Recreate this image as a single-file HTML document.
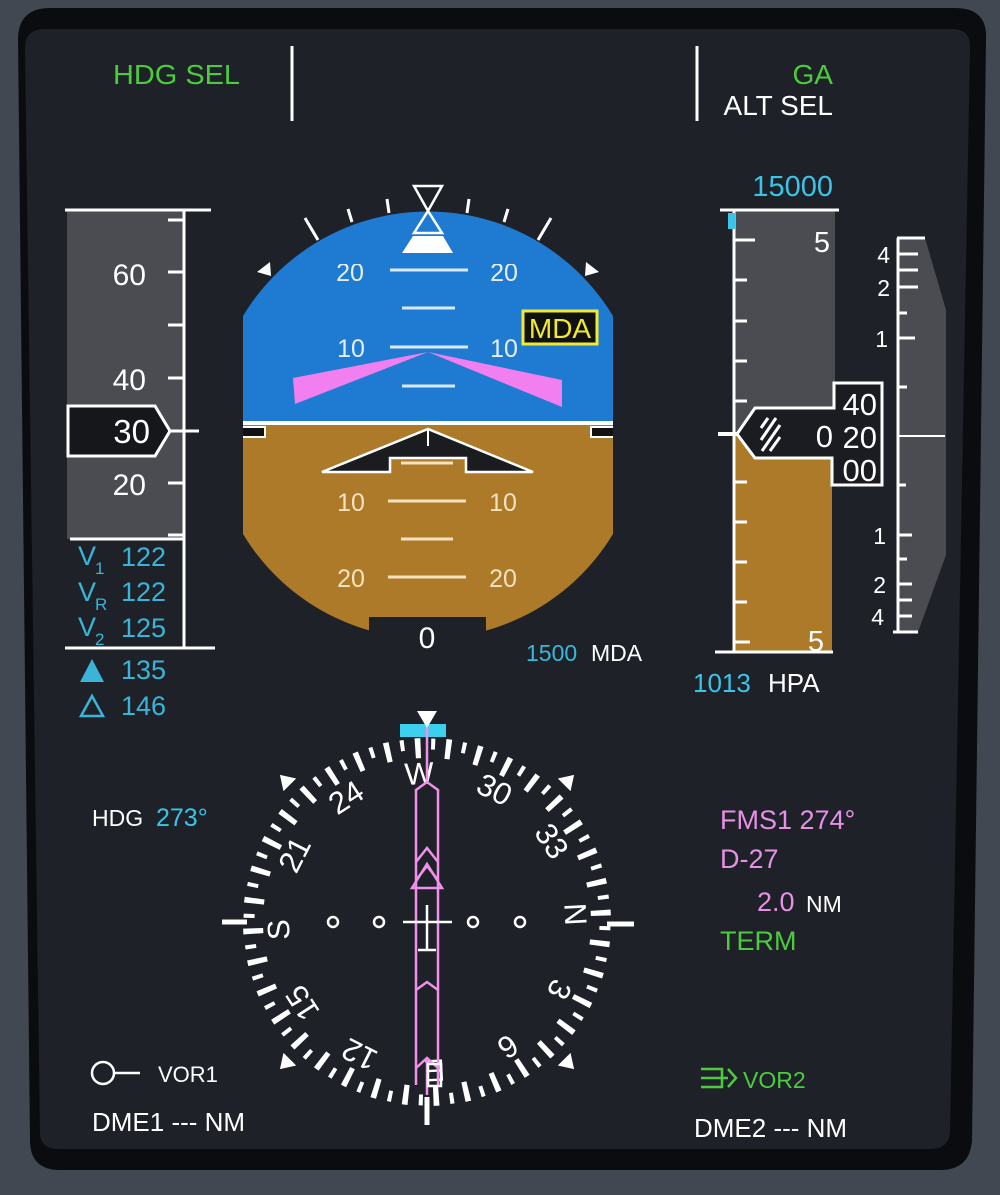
<!DOCTYPE html>
<html><head><meta charset="utf-8"><style>
html,body{margin:0;padding:0;background:#40454d;}
svg{display:block;font-family:"Liberation Sans","DejaVu Sans",sans-serif;}
</style></head><body>
<svg width="1000" height="1195" viewBox="0 0 1000 1195" xmlns="http://www.w3.org/2000/svg">
<defs>
<clipPath id="adi"><path d="M243,316 A216,216 0 0 1 613,316 L613,534 A216,216 0 0 1 243,534 Z"/></clipPath>
<clipPath id="topcut"><rect x="240" y="264" width="380" height="40"/></clipPath>
</defs>
<rect width="1000" height="1195" fill="#424851"/>
<path d="M18,40 Q18,8 50,8 L955,8 Q988,8 986,40 L972,1140 Q970,1170 940,1170 L60,1170 Q30,1170 30,1140 Z" fill="#0b0c0f"/>
<path d="M25,48 Q25,29 45,29 L952,29 Q971,29 970,48 L950,1132 Q949,1149 930,1149 L58,1149 Q40,1149 40,1132 Z" fill="#1e2128"/>

<!-- top annunciators -->
<text x="113" y="84" fill="#4ccc3c" font-size="28" textLength="127" lengthAdjust="spacingAndGlyphs">HDG SEL</text>
<line x1="292" y1="46" x2="292" y2="121" stroke="#fff" stroke-width="3"/>
<line x1="697" y1="46" x2="697" y2="121" stroke="#fff" stroke-width="3"/>
<text x="833" y="84" fill="#4ccc3c" font-size="28" text-anchor="end">GA</text>
<text x="833" y="115" fill="#fff" font-size="28" text-anchor="end">ALT SEL</text>

<!-- ADI -->
<g clip-path="url(#adi)">
<rect x="240" y="200" width="380" height="224" fill="#1f7bd2"/>
<rect x="240" y="424" width="380" height="230" fill="#ad7a2a"/>
<g stroke="#dbe8f8" stroke-width="3">
<line x1="390" y1="270" x2="468" y2="270"/><line x1="402" y1="308" x2="455" y2="308"/>
<line x1="390" y1="347" x2="468" y2="347"/><line x1="402" y1="386" x2="455" y2="386"/>
</g>
<g stroke="#f3e2c0" stroke-width="3">
<line x1="401" y1="463" x2="453" y2="463"/>
<line x1="388" y1="501" x2="466" y2="501"/><line x1="401" y1="539" x2="453" y2="539"/>
<line x1="388" y1="577" x2="466" y2="577"/>
</g>
<g fill="#e8eef8" font-size="25" text-anchor="middle">
<g clip-path="url(#topcut)"><text x="350" y="281">20</text><text x="504" y="281">20</text></g>
<text x="351" y="357">10</text><text x="504" y="357">10</text>
</g>
<g fill="#f3e2c0" font-size="25" text-anchor="middle">
<text x="351" y="511">10</text><text x="503" y="511">10</text>
<text x="351" y="587">20</text><text x="503" y="587">20</text>
</g>
<rect x="240" y="421" width="380" height="4" fill="#fff"/>
</g>
<rect x="369" y="617" width="117" height="30" fill="#1e2128"/>
<text x="427" y="648" fill="#fff" font-size="30" text-anchor="middle">0</text>
<path d="M243,427 L265,427 L265,437 L243,437" fill="#111" stroke="#fff" stroke-width="2"/>
<path d="M613,427 L591,427 L591,437 L613,437" fill="#111" stroke="#fff" stroke-width="2"/>
<!-- FD -->
<polygon points="428,352 293,378 295,404" fill="#f27ff0"/>
<polygon points="428,352 562,380 562,407" fill="#f27ff0"/>
<!-- MDA -->
<rect x="523" y="311" width="74" height="33" fill="#111" stroke="#f0ea30" stroke-width="3"/>
<text x="560" y="338" fill="#f0ea30" font-size="28" text-anchor="middle">MDA</text>
<!-- aircraft -->
<polygon points="322,472 428,429 533,472 466,472 466,458 390,458 390,472" fill="#1a1c20" stroke="#fff" stroke-width="2.5"/>
<line x1="428" y1="429" x2="428" y2="446" stroke="#fff" stroke-width="2"/>
<!-- roll scale -->
<g stroke="#fff" stroke-width="3">
<line x1="305" y1="218" x2="318" y2="240"/><line x1="551" y1="218" x2="538" y2="240"/>
<line x1="348" y1="209" x2="352" y2="222"/><line x1="508" y1="209" x2="504" y2="222"/>
<line x1="387" y1="199" x2="389" y2="213"/><line x1="469" y1="199" x2="467" y2="213"/>
</g>
<polygon points="257,272 270,262 271,276" fill="#fff"/>
<polygon points="599,272 586,262 585,276" fill="#fff"/>
<polygon points="414,186 442,186 428,211" fill="none" stroke="#fff" stroke-width="2.5"/>
<polygon points="428,211 414,233 442,233" fill="none" stroke="#fff" stroke-width="2.5"/>
<polygon points="402,253 453,253 443,236 413,236" fill="#fff"/>
<text x="526" y="661" fill="#3ab8dc" font-size="23">1500</text>
<text x="591" y="661" fill="#fff" font-size="23">MDA</text>

<!-- speed tape -->
<rect x="67" y="211" width="116" height="328" fill="#4b4c52"/>
<line x1="65" y1="210" x2="211" y2="210" stroke="#fff" stroke-width="3"/>
<line x1="184" y1="210" x2="184" y2="648" stroke="#fff" stroke-width="3"/>
<g stroke="#fff" stroke-width="3">
<line x1="168" y1="220" x2="184" y2="220"/><line x1="168" y1="272" x2="184" y2="272"/>
<line x1="168" y1="325" x2="184" y2="325"/><line x1="168" y1="378" x2="184" y2="378"/>
<line x1="168" y1="483" x2="184" y2="483"/><line x1="168" y1="535" x2="184" y2="535"/>
</g>
<g fill="#fff" font-size="30" text-anchor="end">
<text x="146" y="285">60</text><text x="146" y="390">40</text><text x="146" y="495">20</text>
</g>
<polygon points="68,406 155,406 170,431 155,456 68,456" fill="#15171b" stroke="#fff" stroke-width="3"/>
<text x="150" y="443" fill="#fff" font-size="33" text-anchor="end">30</text>
<line x1="168" y1="431" x2="199" y2="431" stroke="#fff" stroke-width="3"/>
<line x1="70" y1="539" x2="184" y2="539" stroke="#fff" stroke-width="3"/>
<line x1="65" y1="648" x2="215" y2="648" stroke="#fff" stroke-width="3"/>
<g fill="#3ab4d8" font-size="27">
<text x="78" y="565">V</text><text x="95" y="574" font-size="17">1</text><text x="121" y="566">122</text>
<text x="78" y="601">V</text><text x="95" y="610" font-size="17">R</text><text x="121" y="601">122</text>
<text x="78" y="636">V</text><text x="95" y="645" font-size="17">2</text><text x="121" y="637">125</text>
<text x="121" y="679">135</text><text x="121" y="715">146</text>
</g>
<polygon points="80,682 92,659 104,682" fill="#3ab4d8"/>
<polygon points="81,716 92,696 103,716" fill="none" stroke="#3ab4d8" stroke-width="2.5"/>

<!-- altitude tape -->
<text x="833" y="196" fill="#3ac4e8" font-size="29" text-anchor="end">15000</text>
<rect x="734" y="211" width="101" height="225" fill="#4b4c52"/>
<rect x="734" y="436" width="98" height="215" fill="#ad7a2a"/>
<line x1="720" y1="210" x2="839" y2="210" stroke="#fff" stroke-width="3"/>
<line x1="734" y1="210" x2="734" y2="652" stroke="#fff" stroke-width="3"/>
<line x1="715" y1="652" x2="833" y2="652" stroke="#fff" stroke-width="3"/>
<rect x="728" y="213" width="7" height="16" fill="#3ac4e8"/>
<g stroke="#fff" stroke-width="3">
<line x1="734" y1="240" x2="755" y2="240"/><line x1="734" y1="280" x2="747" y2="280"/>
<line x1="734" y1="321" x2="747" y2="321"/><line x1="734" y1="361" x2="747" y2="361"/>
<line x1="734" y1="401" x2="747" y2="401"/><line x1="734" y1="482" x2="747" y2="482"/>
<line x1="734" y1="522" x2="747" y2="522"/><line x1="734" y1="562" x2="747" y2="562"/>
<line x1="734" y1="602" x2="747" y2="602"/><line x1="734" y1="642" x2="750" y2="642"/>
</g>
<text x="830" y="252" fill="#fff" font-size="29" text-anchor="end">5</text>
<text x="824" y="651" fill="#fff" font-size="29" text-anchor="end">5</text>
<polygon points="834,383 882,383 882,485 832,485 832,458 755,458 737,434 755,408 834,408" fill="#1a1c21" stroke="#fff" stroke-width="3"/>
<line x1="718" y1="434" x2="737" y2="434" stroke="#fff" stroke-width="4"/>
<g fill="#fff" font-size="31" text-anchor="end">
<text x="877" y="415">40</text><text x="877" y="448">20</text><text x="877" y="481">00</text>
<text x="833" y="447">0</text>
</g>
<g stroke="#fff" stroke-width="3">
<line x1="761" y1="428" x2="768" y2="418"/><line x1="761" y1="440" x2="776" y2="418"/>
<line x1="762" y1="451" x2="780" y2="425"/><line x1="770" y1="451" x2="780" y2="437"/>
</g>
<text x="693" y="692" fill="#3ac4e8" font-size="26">1013</text>
<text x="768" y="692" fill="#fff" font-size="26">HPA</text>

<!-- VSI -->
<polygon points="898,238 925,238 946,310 946,555 918,632 898,632" fill="#4b4c52"/>
<line x1="898" y1="238" x2="898" y2="632" stroke="#fff" stroke-width="3"/>
<g stroke="#fff" stroke-width="3">
<line x1="897" y1="238" x2="925" y2="238"/><line x1="898" y1="254" x2="918" y2="254"/>
<line x1="898" y1="270" x2="918" y2="270"/><line x1="898" y1="287" x2="918" y2="287"/>
<line x1="898" y1="313" x2="907" y2="313"/><line x1="898" y1="338" x2="915" y2="338"/>
<line x1="898" y1="387" x2="907" y2="387"/><line x1="898" y1="436" x2="945" y2="436" stroke-width="2"/>
<line x1="898" y1="485" x2="906" y2="485"/><line x1="898" y1="535" x2="912" y2="535"/>
<line x1="898" y1="559" x2="907" y2="559"/><line x1="898" y1="584" x2="912" y2="584"/>
<line x1="898" y1="600" x2="912" y2="600"/><line x1="898" y1="616" x2="912" y2="616"/>
<line x1="893" y1="632" x2="918" y2="632"/>
</g>
<g fill="#fff" font-size="23" text-anchor="end">
<text x="890" y="263">4</text><text x="890" y="296">2</text><text x="888" y="347">1</text>
<text x="886" y="544">1</text><text x="886" y="593">2</text><text x="884" y="625">4</text>
</g>

<!-- compass -->
<g transform="translate(427,922)">
<circle r="174" fill="none" stroke="#fff" stroke-width="20" pathLength="360" stroke-dasharray="1.8 8.2" stroke-dashoffset="-6.1"/>
<circle r="178" fill="none" stroke="#fff" stroke-width="11" pathLength="360" stroke-dasharray="1.3 8.7" stroke-dashoffset="-1.35"/>
<g fill="#fff" font-size="31" text-anchor="middle">
<text y="-138" transform="rotate(87)">N</text>
<text y="-138" transform="rotate(117)">3</text>
<text y="-138" transform="rotate(147)">6</text>
<text y="-138" transform="rotate(177)">E</text>
<text y="-138" transform="rotate(207)">12</text>
<text y="-138" transform="rotate(237)">15</text>
<text y="-138" transform="rotate(267)">S</text>
<text y="-138" transform="rotate(297)">21</text>
<text y="-138" transform="rotate(327)">24</text>
<text y="-138" transform="rotate(-3)">W</text>
<text y="-138" transform="rotate(27)">30</text>
<text y="-138" transform="rotate(57)">33</text>
</g>
<g fill="#fff">
<polygon points="0,-208 -9,-194 9,-194" transform="rotate(-45)"/>
<polygon points="0,-208 -9,-194 9,-194" transform="rotate(45)"/>
<polygon points="0,-208 -9,-194 9,-194" transform="rotate(135)"/>
<polygon points="0,-208 -9,-194 9,-194" transform="rotate(-135)"/>
</g>
<g stroke="#fff" stroke-width="5">
<line x1="-205" y1="0" x2="-180" y2="0"/><line x1="180" y1="2" x2="207" y2="2"/>
<line x1="0" y1="175" x2="0" y2="203"/>
</g>
<g fill="none" stroke="#fff" stroke-width="2.5">
<circle cx="-94" cy="0" r="5"/><circle cx="-48" cy="0" r="5"/>
<circle cx="46" cy="0" r="5"/><circle cx="93" cy="0" r="5"/>
</g>
</g>
<polygon points="400,724 446,724 446,737 400,737" fill="#3ad0ee"/>
<polygon points="417,711 437,711 427,728" fill="#fff"/>
<!-- course needle -->
<g fill="none" stroke="#f090ea" stroke-width="2.5">
<line x1="427" y1="728" x2="427" y2="780"/>
<path d="M416,1085 L416,790 L427,782 L438,790 L438,1085"/>
<polygon points="412,888 427,864 442,888"/>
<path d="M416,862 L427,848 L438,862"/>
<path d="M416,880 L427,866 L438,880"/>
<path d="M416,990 L427,982 L438,990"/>
<path d="M416,1068 L427,1058 L438,1068"/>
<line x1="427" y1="1060" x2="427" y2="1095"/>
</g>
<g stroke="#fff" stroke-width="2.5" fill="none">
<line x1="403" y1="922" x2="452" y2="922"/>
<line x1="427" y1="905" x2="427" y2="950"/>
<line x1="418" y1="950" x2="436" y2="950"/>
<rect x="428" y="1064" width="13" height="22"/>
</g>

<!-- side texts -->
<text x="92" y="826" fill="#fff" font-size="23">HDG</text>
<text x="156" y="826" fill="#3ac4e8" font-size="25">273°</text>
<text x="720" y="829" fill="#e890e8" font-size="27">FMS1 274°</text>
<text x="720" y="868" fill="#e890e8" font-size="27">D-27</text>
<text x="757" y="911" fill="#e890e8" font-size="27">2.0</text>
<text x="806" y="912" fill="#fff" font-size="23">NM</text>
<text x="720" y="950" fill="#4ccc3c" font-size="27">TERM</text>

<circle cx="103" cy="1073" r="11" fill="none" stroke="#fff" stroke-width="2.5"/>
<line x1="114" y1="1073" x2="140" y2="1073" stroke="#fff" stroke-width="2.5"/>
<text x="158" y="1082" fill="#fff" font-size="22">VOR1</text>
<text x="92" y="1131" fill="#fff" font-size="26">DME1 --- NM</text>
<g fill="none" stroke="#4ccc3c" stroke-width="2.5">
<path d="M701,1069 L722,1069 L722,1087 L701,1087"/>
<line x1="701" y1="1078" x2="728" y2="1078"/>
<path d="M728,1069 L736,1078 L728,1087"/>
</g>
<text x="743" y="1088" fill="#4ccc3c" font-size="23">VOR2</text>
<text x="694" y="1137" fill="#fff" font-size="26">DME2 --- NM</text>
</svg>
</body></html>
